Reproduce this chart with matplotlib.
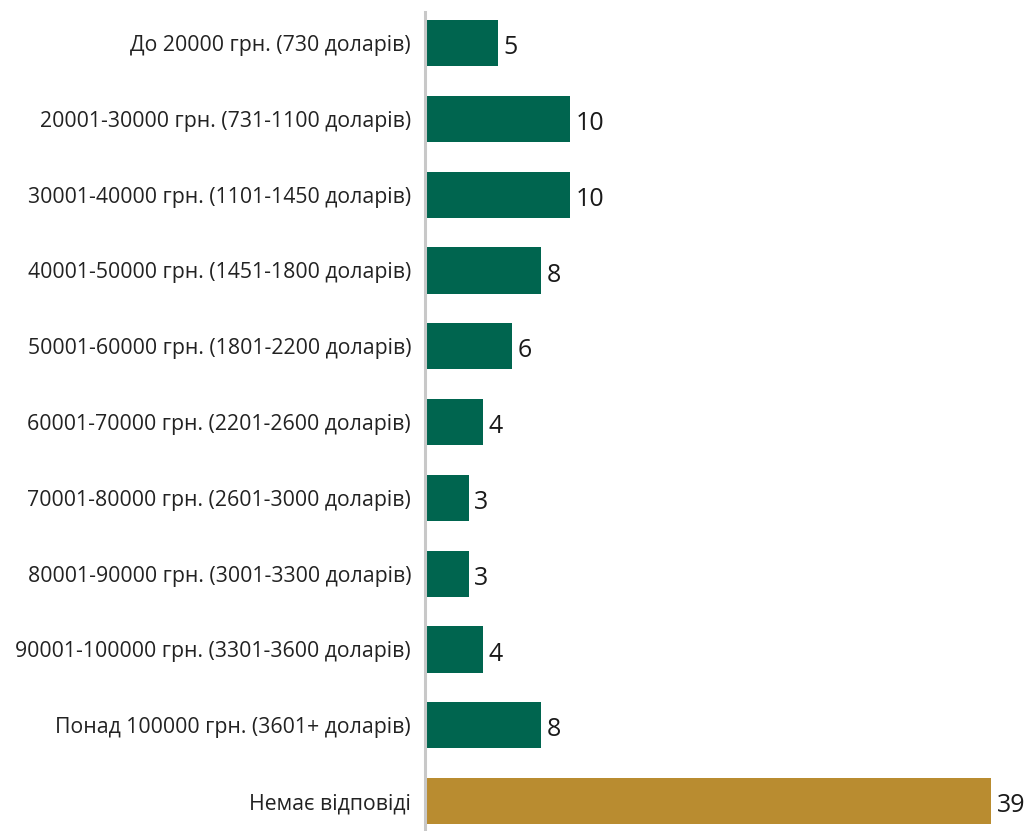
import matplotlib.pyplot as plt

categories = [
    "До 20000 грн. (730 доларів)",
    "20001-30000 грн. (731-1100 доларів)",
    "30001-40000 грн. (1101-1450 доларів)",
    "40001-50000 грн. (1451-1800 доларів)",
    "50001-60000 грн. (1801-2200 доларів)",
    "60001-70000 грн. (2201-2600 доларів)",
    "70001-80000 грн. (2601-3000 доларів)",
    "80001-90000 грн. (3001-3300 доларів)",
    "90001-100000 грн. (3301-3600 доларів)",
    "Понад 100000 грн. (3601+ доларів)",
    "Немає відповіді",
]
values = [5, 10, 10, 8, 6, 4, 3, 3, 4, 8, 39]
colors = ["#00654f"] * 10 + ["#b98c30"]

plt.rcParams['font.family'] = ['Open Sans', 'DejaVu Sans']

fig = plt.figure(figsize=(10.27, 8.31), dpi=100)
ax = fig.add_axes([425 / 1027, 0, 602 / 1027, 819 / 831])

pos = list(range(len(categories)))
ax.barh(pos, values, height=0.61, color=colors)

# value labels just right of each bar
for p, v in zip(pos, values):
    ax.text(v + 0.4, p + 0.06, str(v), va='center', ha='left',
            fontsize=18, color='#1a1a1a')

ax.set_yticks(pos)
ax.set_yticklabels(categories, fontsize=15.3, color='#222222')
ax.tick_params(axis='y', length=0, pad=10)
ax.set_xticks([])
ax.set_xlim(0, 41.5)
ax.set_ylim(10.395, -0.41)

for s in ['top', 'right', 'bottom']:
    ax.spines[s].set_visible(False)
ax.spines['left'].set_color('#c8c8c8')
ax.spines['left'].set_linewidth(2.2)

fig.savefig('out.png', dpi=100)
